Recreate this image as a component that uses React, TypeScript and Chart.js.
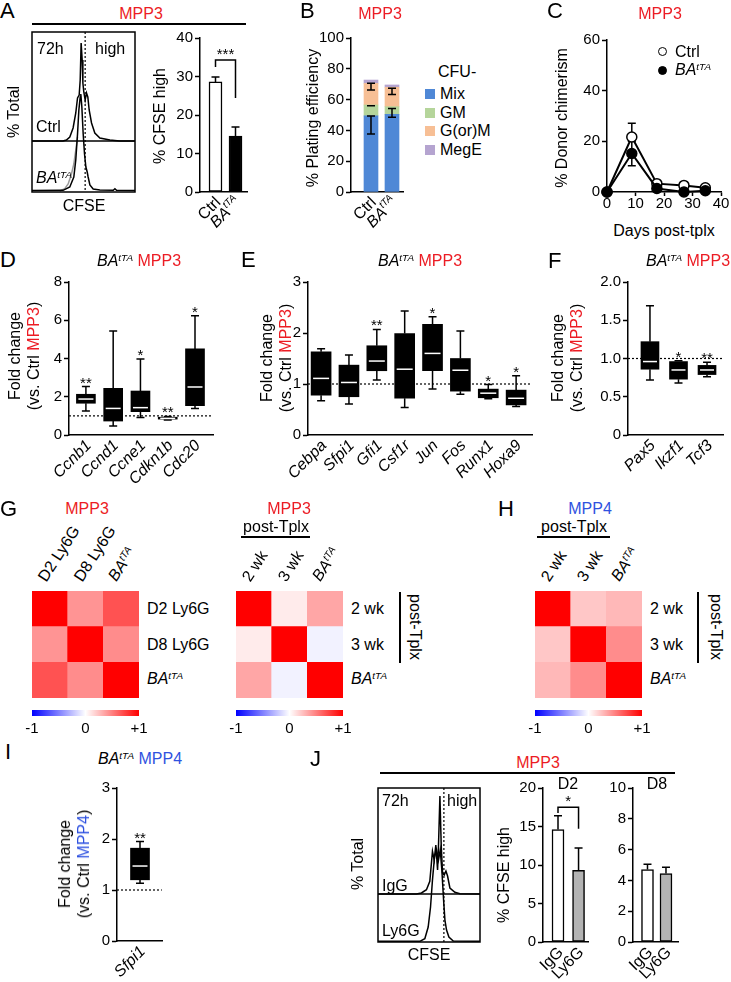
import React, { useEffect, useRef } from 'react';
import { Chart, registerables } from 'chart.js';

Chart.register(...registerables);

const FONT = '"Liberation Sans", Arial, Helvetica, sans-serif';
const RED = '#ec1c24';
const BLUE = '#2f52e0';
Chart.defaults.font.family = FONT;
Chart.defaults.font.size = 15;
Chart.defaults.color = '#000';

// ======================= DATA =======================
// Panel A – CFSE histograms: [CFSE (display units 0-100), count]
const A_HIST_CTRL: number[][] = [[0, 0], [30, 0], [33.4, 1], [36.7, 4], [39.9, 13], [42.5, 28], [44.2, 43], [45.8, 46], [46.8, 61], [47.7, 98], [48.7, 81], [49.4, 58], [50.3, 49], [51.6, 41], [52.9, 48], [54.2, 44], [55.5, 31], [57.8, 18], [61, 8], [65.9, 3], [75.6, 1], [85, 0], [100, 0]];
const A_HIST_BA: number[][] = [[0, 1.5], [30.2, 1.7], [36.7, 5], [40.6, 15], [42.5, 32], [44.2, 58], [45.5, 82], [46.8, 95], [47.4, 98], [48.4, 85], [49.7, 58], [51, 38], [52.3, 25], [53.6, 20], [54.5, 15], [56.2, 7], [59.4, 3], [65.9, 2], [78.9, 1.7], [80.5, 3.3], [82.1, 1.7], [100, 1.5]];
const A_HIST_BA_GRAY: number[][] = [[26.9, 1], [31.8, 3.3], [35.1, 8], [38.3, 18], [40.6, 28], [42.5, 42], [44.2, 55]];
const A_GATE = 51.6;
const A_GROUPS = ['Ctrl', 'BA^tTA'];
const A_CFSE_HIGH = [28.6, 14.5];
const A_CFSE_ERR = [29.9, 16.9];

// Panel B – CFU plating efficiency (stacked)
const B_GROUPS = ['Ctrl', 'BA^tTA'];
const B_TYPES = ['Mix', 'GM', 'G(or)M', 'MegE'];
const B_COLORS = ['#4f88d6', '#b5d59b', '#f7bf95', '#b5a4d0'];
const B_MIX = [49.4, 50.4];
const B_GM = [7.1, 5.0];
const B_GOM = [14.0, 12.6];
const B_MEGE = [2.2, 1.5];
const B_ERR_CTRL = [[37.7, 49.4], [56, 56], [66.2, 70.6]];
const B_ERR_BA = [[48.5, 54.3], [63.3, 67.3]];

// Panel C – donor chimerism
const C_DAYS = [0, 8.7, 17.5, 27, 34.5];
const C_CTRL = [0, 21.7, 3.3, 2.6, 1.7];
const C_CTRL_SEM = [0, 5.4, 0, 0, 0];
const C_BA = [0, 15.2, 1.4, 0, 0.5];
const C_BA_SEM = [0, 4.8, 0, 0, 0];

// Panels D/E/F/I – box plots: [min, q1, median, q3, max]
const D_GENES = ['Ccnb1', 'Ccnd1', 'Ccne1', 'Cdkn1b', 'Cdc20'];
const D_BOX = [[1.25, 1.66, 1.88, 2.13, 2.53], [0.47, 0.73, 1.39, 2.44, 5.44], [0.91, 1.22, 1.43, 2.3, 3.97], [0.79, 0.83, 0.87, 0.93, 0.97], [1.39, 1.53, 2.51, 4.5, 6.24]];
const D_SIG = ['**', '', '*', '**', '*'];

const E_GENES = ['Cebpa', 'Sfpi1', 'Gfi1', 'Csf1r', 'Jun', 'Fos', 'Runx1', 'Hoxa9'];
const E_BOX = [[0.67, 0.78, 1.11, 1.63, 1.69], [0.61, 0.75, 1.03, 1.37, 1.57], [1.08, 1.26, 1.45, 1.75, 2.07], [0.54, 0.72, 1.29, 1.99, 2.43], [0.9, 1.26, 1.6, 2.17, 2.32], [0.8, 0.86, 1.27, 1.5, 2.04], [0.71, 0.73, 0.82, 0.9, 0.99], [0.56, 0.59, 0.72, 0.88, 1.16]];
const E_SIG = ['', '', '**', '', '*', '', '*', '*'];

const F_GENES = ['Pax5', 'Ikzf1', 'Tcf3'];
const F_BOX = [[0.72, 0.86, 0.96, 1.22, 1.69], [0.68, 0.73, 0.85, 0.96, 0.97], [0.76, 0.79, 0.85, 0.91, 0.95]];
const F_SIG = ['', '*', '**'];

const I_GENES = ['Sfpi1'];
const I_BOX = [[1.13, 1.2, 1.47, 1.82, 1.95]];
const I_SIG = ['**'];

// Panels G/H – correlation matrices
const G1_LABELS = ['D2 Ly6G', 'D8 Ly6G', 'BA^tTA'];
const G1_CORR = [[1, 0.42, 0.68], [0.42, 1, 0.45], [0.68, 0.45, 1]];
const G2_LABELS = ['2 wk', '3 wk', 'BA^tTA'];
const G2_CORR = [[1, 0.08, 0.35], [0.08, 1, -0.05], [0.35, -0.05, 1]];
const H_LABELS = ['2 wk', '3 wk', 'BA^tTA'];
const H_CORR = [[1, 0.22, 0.28], [0.22, 1, 0.45], [0.28, 0.45, 1]];

// Panel J
const J_HIST_IGG: number[][] = [[0, 0], [37.7, 0], [42.6, 1], [47.5, 4.3], [50.8, 12.7], [53.4, 42.7], [55.1, 34], [56.7, 49], [58.4, 24], [59.3, 48], [60.7, 98], [62, 48], [63.3, 21], [64.9, 19], [66.6, 23], [68.2, 18], [70.5, 6], [75.4, 1.7], [80.3, 0.3], [100, 0]];
const J_HIST_LY6G: number[][] = [[0, 0.7], [41, 0.7], [45.9, 3.3], [49.2, 15], [51.5, 35], [53.4, 62], [55.4, 85], [57.4, 92], [59.3, 82], [61, 92], [62.6, 72], [64.3, 42], [65.6, 22], [67.2, 12], [69.5, 5], [73.8, 1], [100, 0.7]];
const J_GATE = 64.6;
const J_GROUPS = ['IgG', 'Ly6G'];
const J_D2 = [14.6, 9.3];
const J_D2_ERR = [16.4, 12.2];
const J_D8 = [4.7, 4.45];
const J_D8_ERR = [5.05, 4.85];

// ======================= HELPERS =======================
const GRID_T = { display: true, drawOnChartArea: false, drawTicks: true, tickLength: 5, tickWidth: 1.5, tickColor: '#000', color: '#000' };
const BORDER = { display: true, color: '#000', width: 1.5 };

function base(m: number[]) {
  return {
    animation: false,
    responsive: false,
    events: [],
    layout: { padding: { left: 0, top: m[1], right: m[2], bottom: 0 } },
    plugins: { legend: { display: false }, tooltip: { enabled: false } },
  };
}
function yAxis(min: number, max: number, step: number, width: number, fmt?: (v: number) => string) {
  const ticks: any = { stepSize: step, padding: 2, color: '#000', font: { size: 15, family: FONT } };
  if (fmt) ticks.callback = (v: any) => fmt(Number(v));
  return { type: 'linear', position: 'left', min, max, ticks, grid: GRID_T, border: BORDER, afterFit: (s: any) => { s.width = width; } };
}
function xHidden(min: number, max: number, height: number) {
  return { type: 'linear', position: 'bottom', offset: false, min, max, ticks: { display: false }, grid: { display: false, offset: false }, border: BORDER, afterFit: (s: any) => { s.height = height; } };
}

function richText(ctx: any, label: string, x: number, y: number, size: number, italic: boolean, align: string) {
  const [main, sup] = label.split('^');
  const f = (s: number) => `${italic ? 'italic ' : ''}${s}px ${FONT}`;
  ctx.font = f(size);
  const w1 = ctx.measureText(main).width;
  let w2 = 0;
  if (sup) { ctx.font = f(size * 0.62); w2 = ctx.measureText(sup).width; }
  const tot = w1 + w2;
  const sx = align === 'right' ? x - tot : align === 'center' ? x - tot / 2 : x;
  ctx.fillStyle = '#000';
  ctx.textAlign = 'left';
  ctx.textBaseline = 'middle';
  ctx.font = f(size);
  ctx.fillText(main, sx, y);
  if (sup) { ctx.font = f(size * 0.62); ctx.fillText(sup, sx + w1, y - size * 0.33); }
}

function rotLabels(labels: string[], italics: boolean[]) {
  return {
    id: 'rotLabels',
    afterDraw(chart: any) {
      const ctx = chart.ctx;
      const yb = chart.chartArea.bottom;
      labels.forEach((lab, i) => {
        ctx.save();
        ctx.translate(chart.scales.x.getPixelForValue(i + 1) + 3, yb + 8);
        ctx.rotate(-Math.PI / 4);
        richText(ctx, lab, 0, 0, 16, italics[i] || lab.includes('^'), 'right');
        ctx.restore();
      });
    },
  };
}

function errBars(items: { x: number; lo: number; hi: number }[], capLo: boolean, before = false) {
  const draw = (chart: any) => {
    const ctx = chart.ctx, xs = chart.scales.x, ys = chart.scales.y;
    ctx.save();
    ctx.strokeStyle = '#000';
    ctx.lineWidth = 1.5;
    ctx.beginPath();
    items.forEach(({ x, lo, hi }) => {
      const px = xs.getPixelForValue(x), yl = ys.getPixelForValue(lo), yh = ys.getPixelForValue(hi);
      ctx.moveTo(px, yl); ctx.lineTo(px, yh);
      ctx.moveTo(px - 4, yh); ctx.lineTo(px + 4, yh);
      if (capLo) { ctx.moveTo(px - 4, yl); ctx.lineTo(px + 4, yl); }
    });
    ctx.stroke();
    ctx.restore();
  };
  return before ? { id: 'errBars', beforeDatasetsDraw: draw } : { id: 'errBars', afterDatasetsDraw: draw };
}

function bracket(x1: number, x2: number, yTop: number, yL: number, yR: number, text: string) {
  return {
    id: 'bracket',
    afterDatasetsDraw(chart: any) {
      const ctx = chart.ctx, xs = chart.scales.x, ys = chart.scales.y;
      const a = xs.getPixelForValue(x1), b = xs.getPixelForValue(x2), t = ys.getPixelForValue(yTop);
      ctx.save();
      ctx.strokeStyle = '#000';
      ctx.lineWidth = 1.5;
      ctx.beginPath();
      ctx.moveTo(a, ys.getPixelForValue(yL)); ctx.lineTo(a, t); ctx.lineTo(b, t); ctx.lineTo(b, ys.getPixelForValue(yR));
      ctx.stroke();
      ctx.fillStyle = '#000';
      ctx.font = `15px ${FONT}`;
      ctx.textAlign = 'center';
      ctx.textBaseline = 'alphabetic';
      ctx.fillText(text, (a + b) / 2, t - 1);
      ctx.restore();
    },
  };
}

function refLine(v: number) {
  return {
    id: 'refLine',
    beforeDatasetsDraw(chart: any) {
      const ctx = chart.ctx, a = chart.chartArea, y = chart.scales.y.getPixelForValue(v);
      ctx.save();
      ctx.strokeStyle = '#000';
      ctx.lineWidth = 1.2;
      ctx.setLineDash([2, 2]);
      ctx.beginPath(); ctx.moveTo(a.left, y); ctx.lineTo(a.right, y); ctx.stroke();
      ctx.restore();
    },
  };
}

function boxes(stats: number[][], sig: string[], bw: number) {
  return {
    id: 'boxes',
    afterDatasetsDraw(chart: any) {
      const ctx = chart.ctx, xs = chart.scales.x, ys = chart.scales.y;
      stats.forEach(([mn, q1, md, q3, mx], i) => {
        const x = xs.getPixelForValue(i + 1);
        ctx.save();
        ctx.strokeStyle = '#000';
        ctx.lineWidth = 1.5;
        ctx.beginPath();
        ctx.moveTo(x, ys.getPixelForValue(q3)); ctx.lineTo(x, ys.getPixelForValue(mx));
        ctx.moveTo(x, ys.getPixelForValue(q1)); ctx.lineTo(x, ys.getPixelForValue(mn));
        ctx.moveTo(x - 4, ys.getPixelForValue(mx)); ctx.lineTo(x + 4, ys.getPixelForValue(mx));
        ctx.moveTo(x - 4, ys.getPixelForValue(mn)); ctx.lineTo(x + 4, ys.getPixelForValue(mn));
        ctx.stroke();
        ctx.strokeStyle = '#fff';
        ctx.beginPath();
        ctx.moveTo(x - bw / 2 + 2, ys.getPixelForValue(md)); ctx.lineTo(x + bw / 2 - 2, ys.getPixelForValue(md));
        ctx.stroke();
        if (sig[i]) {
          ctx.fillStyle = '#000';
          ctx.font = `15px ${FONT}`;
          ctx.textAlign = 'center';
          ctx.textBaseline = 'alphabetic';
          ctx.fillText(sig[i], x, ys.getPixelForValue(mx) + 1);
        }
        ctx.restore();
      });
    },
  };
}

function histFrame(mid: number, gate: number) {
  return {
    id: 'histFrame',
    afterDatasetsDraw(chart: any) {
      const ctx = chart.ctx, a = chart.chartArea;
      ctx.save();
      ctx.strokeStyle = '#000';
      ctx.lineWidth = 1.5;
      ctx.strokeRect(a.left, a.top, a.right - a.left, a.bottom - a.top);
      const y = chart.scales.y.getPixelForValue(mid);
      ctx.beginPath(); ctx.moveTo(a.left, y); ctx.lineTo(a.right, y); ctx.stroke();
      const x = chart.scales.x.getPixelForValue(gate);
      ctx.lineWidth = 1.2;
      ctx.setLineDash([2, 2]);
      ctx.beginPath(); ctx.moveTo(x, a.top); ctx.lineTo(x, a.bottom); ctx.stroke();
      ctx.restore();
    },
  };
}

function corrColor(v: number) {
  if (v >= 0) { const c = Math.round(255 * (1 - v)); return `rgb(255,${c},${c})`; }
  const c = Math.round(255 * (1 + v));
  return `rgb(${c},${c},255)`;
}

// ======================= CHART BUILDERS =======================
const histBuild = (top: number[][], bot: number[][], gray: number[][], mid: number, ymax: number, gate: number) => (m: number[]) => {
  const line = (pts: number[][], off: number, color: string) => ({
    data: pts.map(([x, c]) => ({ x, y: c + off })), borderColor: color, borderWidth: 1.5, pointRadius: 0, fill: false, tension: 0,
  });
  const ds: any[] = [line(top, mid, '#000'), line(bot, 0, '#000')];
  if (gray.length) ds.push(line(gray, 0, '#9a9a9a'));
  return {
    type: 'line',
    data: { datasets: ds },
    options: {
      ...base(m),
      layout: { padding: { left: m[0], top: m[1], right: m[2], bottom: m[3] } },
      scales: { x: { type: 'linear', min: 0, max: 100, display: false }, y: { type: 'linear', min: 0, max: ymax, display: false } },
    },
    plugins: [histFrame(mid, gate)],
  };
};

const simpleBar = (vals: number[], errs: number[], groups: string[], colors: string[], xr: number[], yr: number[], thick: number, extra: any[]) => (m: number[]) => ({
  type: 'bar',
  data: { datasets: [{ data: vals.map((v, i) => ({ x: i + 1, y: v })), backgroundColor: colors, borderColor: '#000', borderWidth: 1.5, borderSkipped: false, barThickness: thick }] },
  options: { ...base(m), scales: { x: xHidden(xr[0], xr[1], m[3]), y: yAxis(yr[0], yr[1], yr[2], m[0]) } },
  plugins: [errBars(vals.map((v, i) => ({ x: i + 1, lo: v, hi: errs[i] })), false), ...extra, rotLabels(groups, groups.map(() => false))],
});

const stackedB = (m: number[]) => ({
  type: 'bar',
  data: {
    datasets: [B_MIX, B_GM, B_GOM, B_MEGE].map((arr, k) => ({
      label: B_TYPES[k], data: arr.map((v, i) => ({ x: i + 1, y: v })), backgroundColor: B_COLORS[k], borderWidth: 0, barThickness: 14,
    })),
  },
  options: { ...base(m), scales: { x: { ...xHidden(0.048, 2.524, m[3]), stacked: true }, y: { ...yAxis(0, 100, 20, m[0]), stacked: true } } },
  plugins: [
    errBars([...B_ERR_CTRL.map(([lo, hi]) => ({ x: 1, lo, hi })), ...B_ERR_BA.map(([lo, hi]) => ({ x: 2, lo, hi }))], true),
    rotLabels(B_GROUPS, [false, true]),
  ],
});

const lineC = (m: number[]) => ({
  type: 'line',
  data: {
    datasets: [
      { label: 'BA', data: C_DAYS.map((d, i) => ({ x: d, y: C_BA[i] })), borderColor: '#000', borderWidth: 2, pointRadius: 5, pointBackgroundColor: '#000', pointBorderColor: '#000', pointBorderWidth: 1.5, order: 0, clip: false },
      { label: 'Ctrl', data: C_DAYS.map((d, i) => ({ x: d, y: C_CTRL[i] })), borderColor: '#000', borderWidth: 2, pointRadius: 5, pointBackgroundColor: '#fff', pointBorderColor: '#000', pointBorderWidth: 1.5, order: 1, clip: false },
    ],
  },
  options: {
    ...base(m),
    scales: {
      x: { type: 'linear', position: 'bottom', min: 0, max: 40, ticks: { stepSize: 10, padding: -1, font: { size: 15 } }, grid: { ...GRID_T, tickLength: 4 }, border: BORDER, afterFit: (s: any) => { s.height = m[3]; } },
      y: yAxis(0, 60, 20, m[0]),
    },
  },
  plugins: [errBars([
    ...C_DAYS.map((d, i) => ({ x: d, lo: C_CTRL[i] - C_CTRL_SEM[i], hi: C_CTRL[i] + C_CTRL_SEM[i], s: C_CTRL_SEM[i] })),
    ...C_DAYS.map((d, i) => ({ x: d, lo: C_BA[i] - C_BA_SEM[i], hi: C_BA[i] + C_BA_SEM[i], s: C_BA_SEM[i] })),
  ].filter((e) => e.s > 0), true, true)],
});

const boxChart = (stats: number[][], genes: string[], sig: string[], yr: number[], xr: number[], bw: number, fmt?: (v: number) => string) => (m: number[]) => ({
  type: 'bar',
  data: { datasets: [{ data: stats.map((b, i) => ({ x: i + 1, y: [b[1], b[3]] })), backgroundColor: '#000', borderWidth: 0, barThickness: bw }] },
  options: { ...base(m), scales: { x: xHidden(xr[0], xr[1], m[3]), y: yAxis(yr[0], yr[1], yr[2], m[0], fmt) } },
  plugins: [refLine(1), boxes(stats, sig, bw), rotLabels(genes, genes.map(() => true))],
});

const heatBuild = (corr: number[][]) => (m: number[]) => ({
  type: 'bar',
  data: {
    labels: corr.map((_, j) => String(j)),
    datasets: corr.map((_, k) => {
      const row = corr.length - 1 - k;
      return { data: corr[row].map(() => 1), backgroundColor: corr[row].map(corrColor), borderWidth: 0, barPercentage: 1, categoryPercentage: 1 };
    }),
  },
  options: {
    ...base(m),
    layout: { padding: 0 },
    scales: { x: { display: false, stacked: true }, y: { display: false, stacked: true, min: 0, max: corr.length } },
  },
});

const cbarBuild = (m: number[]) => ({
  type: 'bar',
  data: {
    labels: ['r'],
    datasets: [{
      data: [[-1, 1]],
      borderWidth: 0,
      barPercentage: 1,
      categoryPercentage: 1,
      backgroundColor: (c: any) => {
        const a = c.chart.chartArea;
        if (!a) return '#fff';
        const g = c.chart.ctx.createLinearGradient(a.left, 0, a.right, 0);
        g.addColorStop(0, '#0000ff');
        g.addColorStop(0.5, '#ffffff');
        g.addColorStop(1, '#ff0000');
        return g;
      },
    }],
  },
  options: {
    ...base(m),
    indexAxis: 'y',
    layout: { padding: { left: m[0], right: m[2], top: 0, bottom: 0 } },
    scales: {
      x: { type: 'linear', min: -1, max: 1, ticks: { stepSize: 1, padding: 4, font: { size: 15 }, callback: (v: any) => (Number(v) > 0 ? '+' + v : String(v)) }, grid: { display: false, drawTicks: false, tickLength: 0 }, border: { display: false }, afterFit: (s: any) => { s.height = m[3]; } },
      y: { display: false },
    },
  },
});

// ======================= COMPONENTS =======================
function ChartBox({ area, m, build }: { area: number[]; m: number[]; build: (m: number[]) => any }) {
  const ref = useRef<HTMLCanvasElement>(null);
  const [x0, y0, x1, y1] = area;
  const w = Math.round(x1 - x0 + m[0] + m[2]);
  const h = Math.round(y1 - y0 + m[1] + m[3]);
  useEffect(() => {
    const chart = new Chart(ref.current as HTMLCanvasElement, build(m));
    return () => chart.destroy();
  }, []);
  return <canvas ref={ref} width={w} height={h} style={{ position: 'absolute', left: x0 - m[0], top: y0 - m[1], width: w, height: h }} />;
}

function T({ x, y, s = 16, c = '#000', a = 'c', r = 0, i = false, children }: any) {
  const tx = a === 'c' ? '-50%' : a === 'r' ? '-100%' : '0%';
  const origin = a === 'l' ? '0 50%' : a === 'r' ? '100% 50%' : '50% 50%';
  return (
    <div style={{ position: 'absolute', left: x, top: y, transform: `translate(${tx}, -50%) rotate(${r}deg)`, transformOrigin: origin, fontSize: s, lineHeight: `${s}px`, color: c, whiteSpace: 'nowrap', fontStyle: i ? 'italic' : 'normal' }}>
      {children}
    </div>
  );
}

function Rich({ text }: { text: string }) {
  const [main, sup] = text.split('^');
  if (!sup) return <>{main}</>;
  return (
    <span style={{ fontStyle: 'italic' }}>
      {main}
      <span style={{ fontSize: '0.62em', position: 'relative', top: '-0.55em' }}>{sup}</span>
    </span>
  );
}

const HL = ({ x1, x2, y }: any) => <div style={{ position: 'absolute', left: x1, top: y - 0.75, width: x2 - x1, height: 1.5, background: '#000' }} />;
const VL = ({ x, y1, y2 }: any) => <div style={{ position: 'absolute', left: x - 0.75, top: y1, width: 1.5, height: y2 - y1, background: '#000' }} />;

function YTitle2({ x, y, who, color }: any) {
  return (
    <T x={x} y={y} r={-90}>
      <div style={{ textAlign: 'center', lineHeight: '19px' }}>
        Fold change<br />(vs. Ctrl <span style={{ color }}>{who}</span>)
      </div>
    </T>
  );
}

function Heat({ x0, labels, corr }: any) {
  const cell = 107 / 3;
  const y0 = 591;
  return (
    <>
      <ChartBox area={[x0, y0, x0 + 107, y0 + 107]} m={[0, 0, 0, 0]} build={heatBuild(corr)} />
      <ChartBox area={[x0, 710, x0 + 107, 716]} m={[16, 0, 16, 24]} build={cbarBuild} />
      {labels.map((l: string, k: number) => (
        <T key={'c' + k} x={x0 + cell * (k + 0.5) - 8} y={580} a="l" r={-57}><Rich text={l} /></T>
      ))}
      {labels.map((l: string, k: number) => (
        <T key={'r' + k} x={x0 + 107 + 8} y={y0 + cell * (k + 0.5)} a="l"><Rich text={l} /></T>
      ))}
    </>
  );
}

export default function App() {
  return (
    <div style={{ position: 'absolute', left: 0, top: 0, width: 731, height: 982, background: '#fff', fontFamily: FONT, color: '#000', overflow: 'hidden' }}>
      {/* ---------- A ---------- */}
      <ChartBox area={[32, 32, 135, 192]} m={[3, 3, 3, 3]} build={histBuild(A_HIST_CTRL, A_HIST_BA, A_HIST_BA_GRAY, 51, 160, A_GATE)} />
      <ChartBox area={[200, 38, 247, 192]} m={[36, 14, 8, 45]} build={simpleBar(A_CFSE_HIGH, A_CFSE_ERR, A_GROUPS, ['#fff', '#000'], [0.225, 2.575], [0, 40, 10], 13, [bracket(1, 2, 34.3, 32.5, 24.4, '***')])} />
      <T x={0} y={11} s={22} a="l">A</T>
      <T x={141} y={14} c={RED}>MPP3</T>
      <HL x1={32} x2={246} y={24} />
      <T x={37} y={49} a="l">72h</T>
      <T x={95} y={49} a="l">high</T>
      <T x={36} y={127} a="l">Ctrl</T>
      <T x={36} y={179} a="l"><Rich text="BA^tTA" /></T>
      <T x={14} y={112} r={-90}>% Total</T>
      <T x={84} y={206}>CFSE</T>
      <T x={160} y={116} r={-90}>% CFSE high</T>

      {/* ---------- B ---------- */}
      <ChartBox area={[351, 38, 403, 192]} m={[36, 14, 8, 45]} build={stackedB} />
      <T x={300} y={11} s={22} a="l">B</T>
      <T x={380} y={14} c={RED}>MPP3</T>
      <T x={313} y={118} r={-90}>% Plating efficiency</T>
      <T x={438} y={72} a="l">CFU-</T>
      {B_TYPES.map((t, k) => (
        <React.Fragment key={t}>
          <div style={{ position: 'absolute', left: 425, top: 94 + k * 18.5 - 5, width: 10, height: 10, background: B_COLORS[k] }} />
          <T x={440} y={94 + k * 18.5} a="l">{t}</T>
        </React.Fragment>
      ))}

      {/* ---------- C ---------- */}
      <ChartBox area={[607, 40, 721, 192]} m={[36, 14, 10, 22]} build={lineC} />
      <T x={547} y={11} s={22} a="l">C</T>
      <T x={660} y={14} c={RED}>MPP3</T>
      <T x={562} y={118} r={-90}>% Donor chimerism</T>
      <T x={664} y={231}>Days post-tplx</T>
      <div style={{ position: 'absolute', left: 658, top: 47, width: 7, height: 7, borderRadius: '50%', border: '1.5px solid #000', background: '#fff' }} />
      <T x={675} y={52} a="l">Ctrl</T>
      <div style={{ position: 'absolute', left: 658, top: 66, width: 7, height: 7, borderRadius: '50%', border: '1.5px solid #000', background: '#000' }} />
      <T x={675} y={71} a="l"><Rich text="BA^tTA" /></T>

      {/* ---------- D ---------- */}
      <ChartBox area={[69, 282, 213, 435]} m={[30, 14, 8, 55]} build={boxChart(D_BOX, D_GENES, D_SIG, [0, 8, 2], [0.38, 5.66], 19)} />
      <T x={0} y={260} s={22} a="l">D</T>
      <T x={139} y={262}><Rich text="BA^tTA" /> <span style={{ color: RED }}>MPP3</span></T>
      <YTitle2 x={24} y={356} who="MPP3" color={RED} />

      {/* ---------- E ---------- */}
      <ChartBox area={[308, 282, 532, 435]} m={[30, 14, 8, 55]} build={boxChart(E_BOX, E_GENES, E_SIG, [0, 3, 1], [0.53, 8.57], 20)} />
      <T x={241} y={260} s={22} a="l">E</T>
      <T x={420} y={262}><Rich text="BA^tTA" /> <span style={{ color: RED }}>MPP3</span></T>
      <YTitle2 x={276} y={358} who="MPP3" color={RED} />

      {/* ---------- F ---------- */}
      <ChartBox area={[628, 282, 723, 435]} m={[36, 14, 6, 55]} build={boxChart(F_BOX, F_GENES, F_SIG, [0, 2, 0.5], [0.23, 3.56], 18, (v) => (v === 0 ? '0' : v.toFixed(1)))} />
      <T x={548} y={261} s={22} a="l">F</T>
      <T x={688} y={262}><Rich text="BA^tTA" /> <span style={{ color: RED }}>MPP3</span></T>
      <YTitle2 x={567} y={358} who="MPP3" color={RED} />

      {/* ---------- G ---------- */}
      <T x={0} y={509} s={22} a="l">G</T>
      <T x={87} y={509} c={RED}>MPP3</T>
      <Heat x0={32} labels={G1_LABELS} corr={G1_CORR} />
      <T x={289} y={509} c={RED}>MPP3</T>
      <T x={276} y={527}>post-Tplx</T>
      <HL x1={241} x2={310} y={537} />
      <Heat x0={236} labels={G2_LABELS} corr={G2_CORR} />
      <VL x={400} y1={592} y2={663} />
      <T x={415} y={627} r={90}>post-Tplx</T>

      {/* ---------- H ---------- */}
      <T x={498} y={509} s={22} a="l">H</T>
      <T x={590} y={509} c={BLUE}>MPP4</T>
      <T x={574} y={527}>post-Tplx</T>
      <HL x1={537} x2={610} y={537} />
      <Heat x0={535} labels={H_LABELS} corr={H_CORR} />
      <VL x={698} y1={592} y2={663} />
      <T x={716} y={627} r={90}>post-Tplx</T>

      {/* ---------- I ---------- */}
      <ChartBox area={[117, 788, 162, 941]} m={[30, 14, 8, 45]} build={boxChart(I_BOX, I_GENES, I_SIG, [0, 3, 1], [-0.15, 2.1], 19)} />
      <T x={5} y={752} s={22} a="l">I</T>
      <T x={140} y={760}><Rich text="BA^tTA" /> <span style={{ color: BLUE }}>MPP4</span></T>
      <YTitle2 x={74} y={864} who="MPP4" color={BLUE} />

      {/* ---------- J ---------- */}
      <ChartBox area={[378, 788, 480, 942]} m={[3, 3, 3, 3]} build={histBuild(J_HIST_IGG, J_HIST_LY6G, [], 48, 154, J_GATE)} />
      <ChartBox area={[543, 788, 588, 942]} m={[34, 14, 8, 45]} build={simpleBar(J_D2, J_D2_ERR, J_GROUPS, ['#fff', '#b3b3b3'], [0.27, 2.46], [0, 20, 5], 12, [bracket(1, 2, 17.5, 16.75, 14.7, '*')])} />
      <ChartBox area={[633, 788, 678, 942]} m={[34, 14, 8, 45]} build={simpleBar(J_D8, J_D8_ERR, J_GROUPS, ['#fff', '#b3b3b3'], [0.216, 2.65], [0, 10, 2], 12, [])} />
      <T x={310} y={759} s={22} a="l">J</T>
      <T x={538} y={763} c={RED}>MPP3</T>
      <HL x1={380} x2={675} y={773} />
      <T x={382} y={801} a="l">72h</T>
      <T x={447} y={801} a="l">high</T>
      <T x={382} y={886} a="l">IgG</T>
      <T x={382} y={931} a="l">Ly6G</T>
      <T x={429} y={955}>CFSE</T>
      <T x={358} y={864} r={-90}>% Total</T>
      <T x={504} y={875} r={-90}>% CFSE high</T>
      <T x={568} y={784}>D2</T>
      <T x={657} y={784}>D8</T>
    </div>
  );
}
